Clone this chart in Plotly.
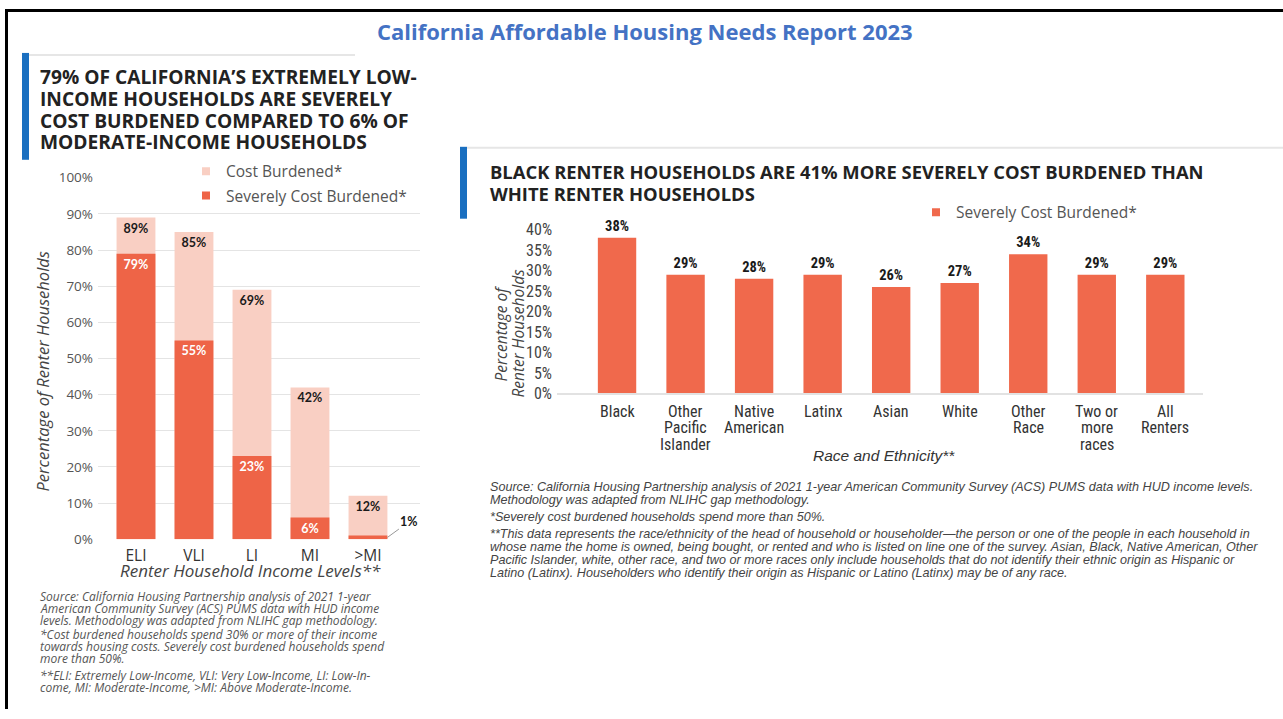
import plotly.graph_objects as go

W, H = 1283, 719

# ---- data -------------------------------------------------------------
income_levels = ["ELI", "VLI", "LI", "MI", ">MI"]
cost_burdened = [89, 85, 69, 42, 12]          # all cost-burdened (total)
severely_burdened = [79, 55, 23, 6, 1]        # severely cost-burdened

race_groups = ["Black", "Other<br>Pacific<br>Islander", "Native<br>American", "Latinx",
               "Asian", "White", "Other<br>Race", "Two or<br>more<br>races", "All<br>Renters"]
race_severe = [38, 29, 28, 29, 26, 27, 34, 29, 29]

left_ticks = list(range(0, 101, 10))
right_ticks = list(range(0, 41, 5))

# ---- styling ----------------------------------------------------------
LIGHT = "#F9CFC3"
DARK = "#EE6447"
BAR_R = "#F0694C"
BLUE = "#1A6FC0"
SANS = "'Open Sans', sans-serif"
LATO = "Lato, 'Open Sans', sans-serif"
NARROW = "'Liberation Sans Narrow', 'Roboto Condensed', 'Liberation Sans', sans-serif"
ARIAL = "'Liberation Sans', Arial, sans-serif"

# page placement of the figure: the plot lands at y_page = Y0 + KY * y_fig
Y0, KY = 9.0, 0.975


def px(x):
    return x / W


def py(y):
    """Paper fraction for a target vertical page position (pixels from top)."""
    y_fig = (y - Y0) / KY
    return min(1.0, max(0.0, 1 - y_fig / H))


def text_lines(lines, x, y_first, step, font, anchor="left", italic=False, bold=False):
    """One annotation per line so the line pitch can be set exactly."""
    out = []
    for i, line in enumerate(lines):
        t = line
        if bold:
            t = f"<b>{t}</b>"
        if italic:
            t = f"<i>{t}</i>"
        out.append(dict(text=t, x=px(x), y=py(y_first + i * step), xref="paper", yref="paper",
                        showarrow=False, xanchor=anchor, yanchor="middle", font=font))
    return out


fig = go.Figure()

# left chart: total cost burdened drawn behind, severe share on top
fig.add_trace(go.Bar(
    x=list(range(len(income_levels))), y=cost_burdened,
    marker=dict(color=LIGHT, line=dict(width=0)),
    text=[f"{v}%" for v in cost_burdened],
    textposition="inside", insidetextanchor="end", constraintext="none",
    textfont=dict(family=LATO, size=12.5, color="#1a1a1a", weight="bold"),
    width=0.67, opacity=1, showlegend=False,
    xaxis="x", yaxis="y", hoverinfo="skip",
))
fig.add_trace(go.Bar(
    x=list(range(len(income_levels))), y=severely_burdened,
    marker=dict(color=DARK, line=dict(width=0)),
    text=[f"{v}%" if v >= 5 else "" for v in severely_burdened],
    textposition="inside", insidetextanchor="end", constraintext="none",
    textfont=dict(family=LATO, size=12.5, color="white", weight="bold"),
    width=0.67, opacity=1, showlegend=False,
    xaxis="x", yaxis="y", hoverinfo="skip",
))
# legend entries (small square swatches)
fig.add_trace(go.Scatter(
    x=[None], y=[None], mode="markers", name="Cost Burdened*", legendgroup="a",
    marker=dict(symbol="square", size=8, color=LIGHT),
    xaxis="x", yaxis="y", legend="legend",
))
fig.add_trace(go.Scatter(
    x=[None], y=[None], mode="markers", name="Severely Cost Burdened*", legendgroup="b",
    marker=dict(symbol="square", size=8, color=DARK),
    xaxis="x", yaxis="y", legend="legend",
))

# right chart
fig.add_trace(go.Bar(
    x=list(range(len(race_groups))), y=race_severe,
    marker=dict(color=BAR_R, line=dict(width=0)),
    text=[f"{v}%" for v in race_severe],
    textposition="outside", cliponaxis=False,
    textfont=dict(family=NARROW, size=14.5, color="#1a1a1a", weight="bold"),
    width=0.56, opacity=1, showlegend=False,
    xaxis="x2", yaxis="y2", hoverinfo="skip",
))
fig.add_trace(go.Scatter(
    x=[None], y=[None], mode="markers", name="Severely Cost Burdened*",
    marker=dict(symbol="square", size=8, color=BAR_R),
    xaxis="x2", yaxis="y2", legend="legend2",
))

shapes = [
    # slide frame
    dict(type="line", xref="paper", yref="paper", x0=px(5), x1=1, y0=1 - 1.5 / H, y1=1 - 1.5 / H,
         line=dict(color="black", width=3)),
    dict(type="line", xref="paper", yref="paper", x0=px(6.5), x1=px(6.5), y0=1, y1=0,
         line=dict(color="black", width=3)),
    # left heading accent
    dict(type="rect", xref="paper", yref="paper", x0=px(22), x1=px(29), y0=py(160), y1=py(53),
         fillcolor=BLUE, line=dict(width=0)),
    dict(type="line", xref="paper", yref="paper", x0=px(29), x1=px(355), y0=py(55), y1=py(55),
         line=dict(color="#e6e6e6", width=2)),
    # right heading accent
    dict(type="rect", xref="paper", yref="paper", x0=px(460), x1=px(467), y0=py(219), y1=py(147),
         fillcolor=BLUE, line=dict(width=0)),
    dict(type="line", xref="paper", yref="paper", x0=px(467), x1=1, y0=py(148), y1=py(148),
         line=dict(color="#e6e6e6", width=2)),
    # white panel behind the legend hides the upper gridlines
    dict(type="rect", xref="paper", yref="paper", x0=px(186), x1=px(430), y0=py(222), y1=py(165),
         fillcolor="white", line=dict(width=0), layer="between"),
]

annotations = []
annotations.append(dict(
    text="<b>California Affordable Housing Needs Report 2023</b>", x=px(645), y=py(31),
    xref="paper", yref="paper", showarrow=False, xanchor="center", yanchor="middle",
    font=dict(family=SANS, size=22, color="#4472C4")))

# chart headings
annotations += text_lines(
    ["79% OF CALIFORNIA’S EXTREMELY LOW-", "INCOME HOUSEHOLDS ARE SEVERELY",
     "COST BURDENED COMPARED TO 6% OF", "MODERATE-INCOME HOUSEHOLDS"],
    38, 77, 21.7, dict(family=SANS, size=19.2, color="#222222"), bold=True)
annotations += text_lines(
    ["BLACK RENTER HOUSEHOLDS ARE 41% MORE SEVERELY COST BURDENED THAN",
     "WHITE RENTER HOUSEHOLDS"],
    488, 172, 22, dict(family=SANS, size=18.4, color="#222222"), bold=True)

# axis titles
annotations.append(dict(
    text="<i>Percentage of Renter Households</i>", x=px(42), y=py(372),
    xref="paper", yref="paper", showarrow=False, textangle=-90,
    xanchor="center", yanchor="middle",
    font=dict(family=SANS, size=16.5, color="#444444")))
annotations.append(dict(
    text="<i>Renter Household Income Levels**</i>", x=px(250), y=py(571),
    xref="paper", yref="paper", showarrow=False, xanchor="center", yanchor="middle",
    font=dict(family=SANS, size=17, color="#444444")))
for i, line in enumerate(["Percentage of", "Renter Households"]):
    annotations.append(dict(
        text=f"<i>{line}</i>", x=px(501 + 17 * i), y=py(334),
        xref="paper", yref="paper", showarrow=False, textangle=-90,
        xanchor="center", yanchor="middle",
        font=dict(family=SANS, size=15.5, color="#444444")))
annotations.append(dict(
    text="<i>Race and Ethnicity**</i>", x=px(884), y=py(456),
    xref="paper", yref="paper", showarrow=False, xanchor="center", yanchor="middle",
    font=dict(family=ARIAL, size=15.5, color="#333333")))

# right category labels, one line at a time for a tight pitch
for i, name in enumerate(race_groups):
    for j, part in enumerate(name.split("<br>")):
        annotations.append(dict(
            text=part, x=i, y=py(412 + 16.5 * j), xref="x2", yref="paper",
            showarrow=False, xanchor="center", yanchor="middle",
            font=dict(family=NARROW, size=16, color="#333333")))

# callout for the thin >MI severe segment
annotations.append(dict(
    text=f"<b>{severely_burdened[-1]}%</b>", x=4 + 0.335, y=severely_burdened[-1] / 2,
    xref="x", yref="y", showarrow=True, arrowhead=0, arrowwidth=1, arrowcolor="#999999",
    ax=22, ay=-16, font=dict(family=LATO, size=12.5, color="#1a1a1a")))

# footnotes
foot_left = dict(family=SANS, size=12, color="#555555")
annotations += text_lines(
    ["Source: California Housing Partnership analysis of 2021 1-year",
     "American Community Survey (ACS) PUMS data with HUD income",
     "levels. Methodology was adapted from NLIHC gap methodology."],
    38, 597, 12, foot_left, italic=True)
annotations += text_lines(
    ["*Cost burdened households spend 30% or more of their income",
     "towards housing costs. Severely cost burdened households spend",
     "more than 50%."],
    38, 635, 12, foot_left, italic=True)
annotations += text_lines(
    ["**ELI: Extremely Low-Income, VLI: Very Low-Income, LI: Low-In-",
     "come, MI: Moderate-Income, >MI: Above Moderate-Income."],
    38, 676, 12, foot_left, italic=True)

foot_right = dict(family=ARIAL, size=12.6, color="#444444")
annotations += text_lines(
    ["Source: California Housing Partnership analysis of 2021 1-year American Community "
     "Survey (ACS) PUMS data with HUD income levels.",
     "Methodology was adapted from NLIHC gap methodology."],
    488, 488, 13, foot_right, italic=True)
annotations += text_lines(
    ["*Severely cost burdened households spend more than 50%."],
    488, 518, 13, foot_right, italic=True)
annotations += text_lines(
    ["**This data represents the race/ethnicity of the head of household or householder—the "
     "person or one of the people in each household in",
     "whose name the home is owned, being bought, or rented and who is listed on line one of "
     "the survey. Asian, Black, Native American, Other",
     "Pacific Islander, white, other race, and two or more races only include households that "
     "do not identify their ethnic origin as Hispanic or",
     "Latino (Latinx). Householders who identify their origin as Hispanic or Latino (Latinx) "
     "may be of any race."],
    488, 535, 13, foot_right, italic=True)

fig.update_layout(
    width=W, height=H,
    margin=dict(l=0, r=0, t=0, b=0),
    paper_bgcolor="white", plot_bgcolor="rgba(0,0,0,0)",
    barmode="overlay",
    shapes=shapes, annotations=annotations,
    xaxis=dict(domain=[px(98), px(420)], range=[-0.655, 4.897],
               tickvals=list(range(len(income_levels))), ticktext=income_levels,
               showgrid=False, zeroline=False, showline=False, ticks="",
               ticklabelstandoff=5,
               tickfont=dict(family=SANS, size=15.5, color="#333333")),
    yaxis=dict(domain=[py(540), py(178)], range=[0, 100],
               tickvals=left_ticks, ticktext=[f"{t}%" for t in left_ticks],
               showgrid=True, gridcolor="#e4e4e4", gridwidth=1, zeroline=False,
               showline=False, ticks="", ticklabelstandoff=4,
               tickfont=dict(family=SANS, size=13.5, color="#555555")),
    xaxis2=dict(domain=[px(557), px(1203)], range=[-0.876, 8.55], anchor="y2",
                tickvals=list(range(len(race_groups))), showticklabels=False,
                showgrid=False, zeroline=False, showline=True, linecolor="#e2e2e2", linewidth=1.5,
                ticks=""),
    yaxis2=dict(domain=[py(394), py(230)], range=[0, 40], anchor="x2",
                tickvals=right_ticks, ticktext=[f"{t}%" for t in right_ticks],
                showgrid=False, zeroline=False, showline=False, ticks="",
                ticklabelstandoff=4,
                tickfont=dict(family=NARROW, size=16, color="#444444")),
    legend=dict(x=px(186), y=py(155), xanchor="left", yanchor="top",
                bgcolor="rgba(0,0,0,0)", traceorder="grouped", tracegroupgap=1,
                font=dict(family=SANS, size=15.5, color="#555555"),
                itemclick=False, itemdoubleclick=False),
    legend2=dict(x=px(916), y=py(196), xanchor="left", yanchor="top",
                 bgcolor="rgba(0,0,0,0)",
                 font=dict(family=SANS, size=15.5, color="#555555"),
                 itemclick=False, itemdoubleclick=False),
)

fig.write_html("out.html")
